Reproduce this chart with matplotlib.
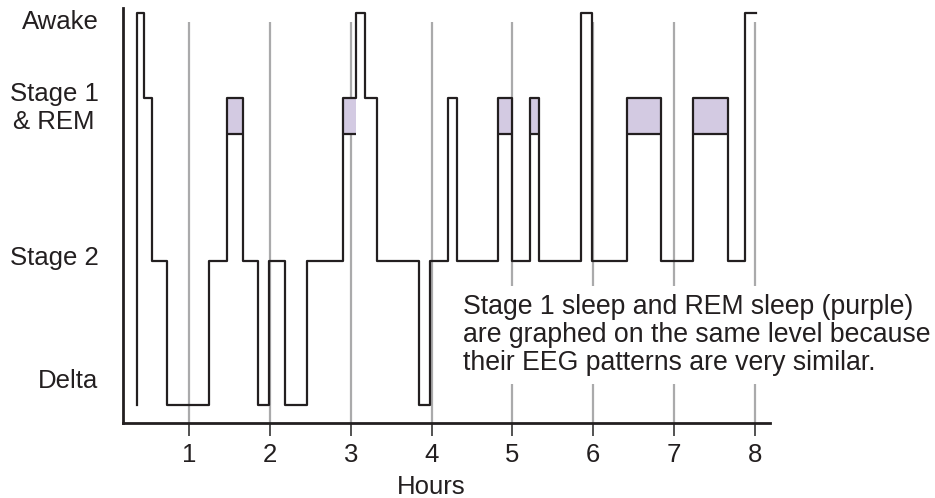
import matplotlib
matplotlib.use('Agg')
import matplotlib.pyplot as plt

plt.rcParams['font.family'] = ['Liberation Sans', 'DejaVu Sans']

# hours at which the sleep stage changes (last value = end of record)
change_hours = [0.35, 0.44, 0.54, 0.73, 1.25, 1.47, 1.66, 1.85, 1.99, 2.18,
                2.46, 2.90, 3.06, 3.18, 3.32, 3.85, 3.98, 4.20, 4.31, 4.82,
                4.99, 5.22, 5.33, 5.85, 5.99, 6.42, 6.84, 7.24, 7.67, 7.88, 8.02]
# stage held between consecutive change hours
stages = ['Awake', 'Stage 1', 'Stage 2', 'Delta', 'Stage 2', 'REM', 'Stage 2',
          'Delta', 'Stage 2', 'Delta', 'Stage 2', 'REM', 'Awake', 'Stage 1',
          'Stage 2', 'Delta', 'Stage 2', 'Stage 1', 'Stage 2', 'REM', 'Stage 2',
          'REM', 'Stage 2', 'Awake', 'Stage 2', 'REM', 'Stage 2', 'REM',
          'Stage 2', 'Awake']
hour_ticks = [1, 2, 3, 4, 5, 6, 7, 8]
stage_labels = ['Awake', 'Stage 1\n& REM', 'Stage 2', 'Delta']

# vertical placement of each stage
level = {'Delta': 0.0, 'Stage 2': 1.0, 'Stage 1': 2.135, 'REM': 2.135, 'Awake': 2.722}
rem_bottom = 1.882
label_y = [2.66, 2.06, 1.02, 0.17]

ymin, ymax = -0.125, 2.757
line_col = '#231f20'
purple = '#d3cae2'

fig = plt.figure(figsize=(9.35, 4.98), dpi=100)
ax = fig.add_axes([0.1316, 0.1506, 0.6919, 0.8334])

# grey hour lines
ax.vlines(hour_ticks, ymin, 2.66, color='#aaaaab', lw=1.6, zorder=1)

# REM boxes
for i, s in enumerate(stages):
    if s == 'REM':
        t0, t1 = change_hours[i], change_hours[i + 1]
        ax.fill_between([t0, t1], rem_bottom, level['REM'], color=purple, lw=0, zorder=2)
        ax.hlines(rem_bottom, t0, t1, color=line_col, lw=1.6, zorder=3)

xs = [change_hours[0]] + change_hours
ys = [level['Delta']] + [level[s] for s in stages] + [level[stages[-1]]]
ax.step(xs, ys, where='post', color=line_col, lw=1.6, zorder=3)

ax.set_xlim(0.18, 8.189)
ax.set_ylim(ymin, ymax)

for sp in ['top', 'right']:
    ax.spines[sp].set_visible(False)
for sp in ['left', 'bottom']:
    ax.spines[sp].set_linewidth(2.0)
    ax.spines[sp].set_color(line_col)

ax.set_xticks(hour_ticks)
ax.set_xticklabels([str(h) for h in hour_ticks], fontsize=18.5, color='#231f20')
ax.tick_params(axis='x', length=9.5, width=1.3, color='#444444', pad=5)
ax.set_yticks([])

ax.set_xlabel('Hours', fontsize=18.5, color='#231f20')
ax.xaxis.set_label_coords(0.476, -0.125)

for lab, y in zip(stage_labels, label_y):
    ax.text(-0.038, y, lab, transform=ax.get_yaxis_transform(), ha='right',
            va='center', fontsize=18.5, multialignment='center',
            linespacing=1.2, color='#231f20')

ax.text(0.5255, 0.212,
        'Stage 1 sleep and REM sleep (purple)\n'
        'are graphed on the same level because\n'
        'their EEG patterns are very similar.',
        transform=ax.transAxes, ha='left', va='center', fontsize=19.2,
        linespacing=1.12, color='#231f20', zorder=4,
        bbox=dict(boxstyle='square,pad=0.3', facecolor='white', edgecolor='none'))

fig.savefig('out.png', dpi=100)
